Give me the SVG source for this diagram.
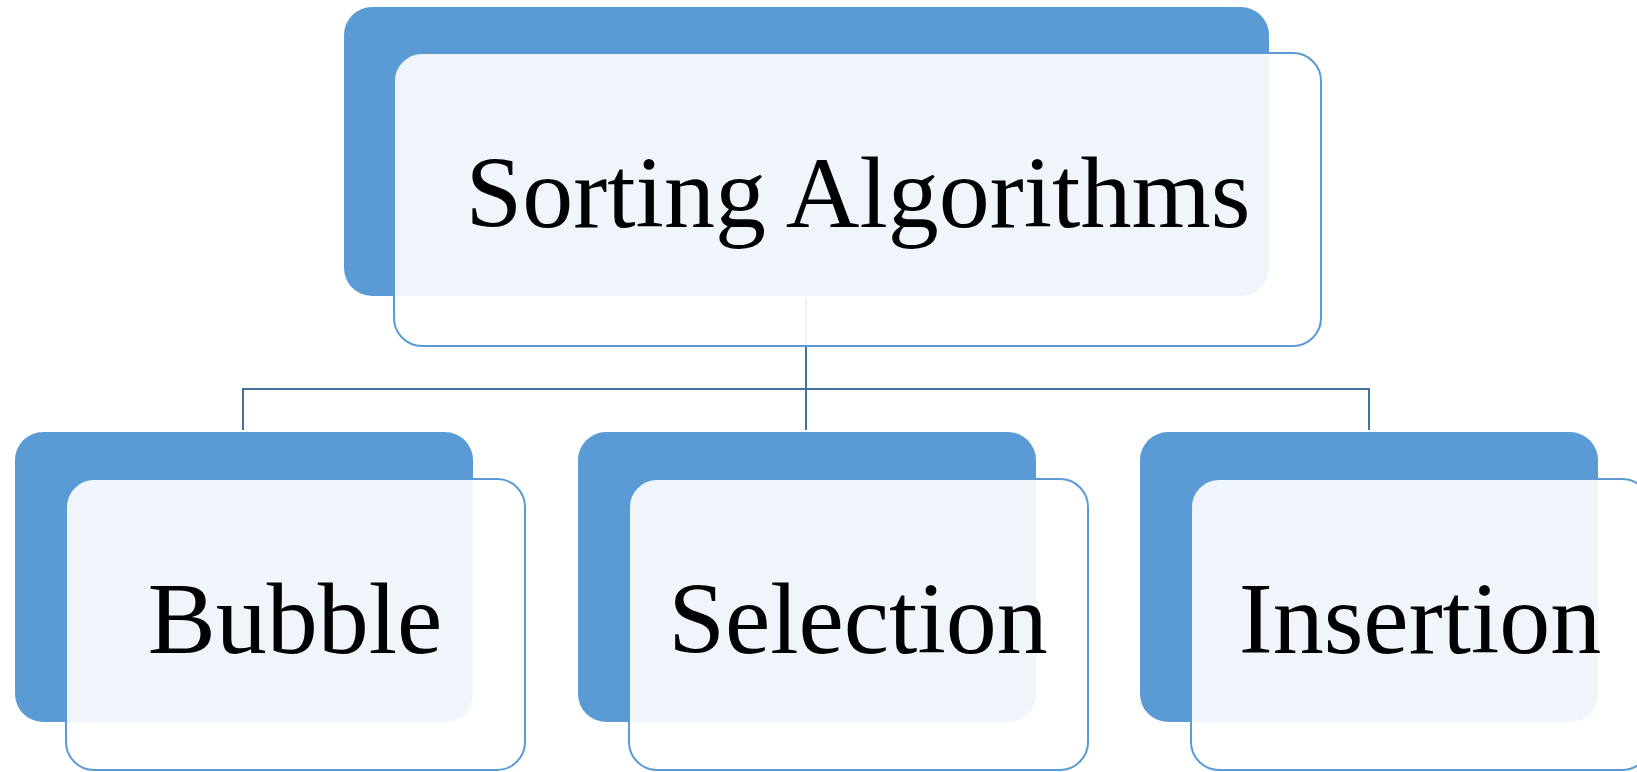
<svg xmlns="http://www.w3.org/2000/svg" width="1637" height="772" viewBox="0 0 1637 772">
  <style>
    .back { fill: #5B9BD5; }
    .front { fill: #FFFFFF; fill-opacity: 0.9; stroke: #5B9BD5; stroke-width: 2; }
    .label { font-family: "Liberation Serif", "Times New Roman", serif; font-size: 102px; fill: #000000; text-anchor: middle; }
    .conn { fill: none; stroke: #41719C; stroke-width: 2; }
  </style>
  <rect width="1637" height="772" fill="#FFFFFF"/>

  <!-- tree connectors, drawn beneath the cards -->
  <g id="connectors">
    <path class="conn" d="M806,298 V389"/>
    <path class="conn" d="M243,430 V389 H1369 V430"/>
    <path class="conn" d="M806,389 V430"/>
  </g>

  <g id="node-root">
    <rect class="back" x="344" y="7" width="925" height="289" rx="28" ry="28"/>
    <rect class="front" x="394" y="53" width="927" height="293" rx="28" ry="28"/>
    <text class="label" x="858" y="227">Sorting Algorithms</text>
  </g>

  <g id="node-bubble">
    <rect class="back" x="15" y="432" width="458" height="290" rx="28" ry="28"/>
    <rect class="front" x="66" y="479" width="459" height="291" rx="28" ry="28"/>
    <text class="label" x="295" y="653">Bubble</text>
  </g>

  <g id="node-selection">
    <rect class="back" x="578" y="432" width="458" height="290" rx="28" ry="28"/>
    <rect class="front" x="629" y="479" width="459" height="291" rx="28" ry="28"/>
    <text class="label" x="858" y="653">Selection</text>
  </g>

  <g id="node-insertion">
    <rect class="back" x="1140" y="432" width="458" height="290" rx="28" ry="28"/>
    <rect class="front" x="1191" y="479" width="459" height="291" rx="28" ry="28"/>
    <text class="label" x="1420" y="653">Insertion</text>
  </g>
</svg>
